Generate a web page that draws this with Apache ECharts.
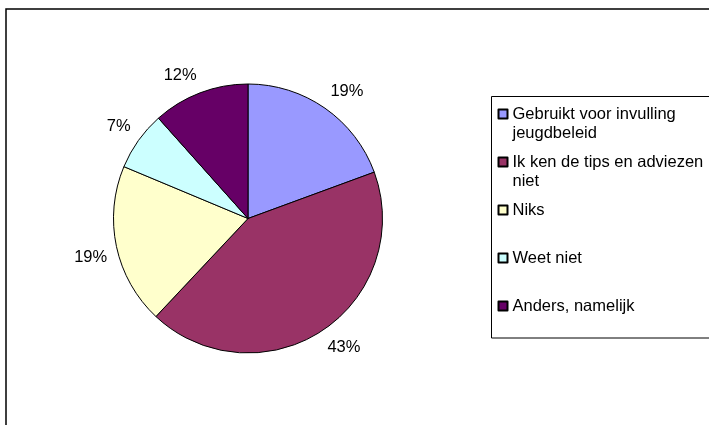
<!DOCTYPE html>
<html>
<head>
<meta charset="utf-8">
<script src="https://cdn.jsdelivr.net/npm/echarts@6/dist/echarts.min.js"></script>
<style>
html,body{margin:0;padding:0;background:#fff;}
#chart{width:709px;height:425px;}
</style>
</head>
<body>
<div id="chart"></div>
<script>
// Data
const categories = [
  'Gebruikt voor invulling jeugdbeleid',
  'Ik ken de tips en adviezen niet',
  'Niks',
  'Weet niet',
  'Anders, namelijk'
];
const legendLines = [
  'Gebruikt voor invulling\njeugdbeleid',
  'Ik ken de tips en adviezen\nniet',
  'Niks',
  'Weet niet',
  'Anders, namelijk'
];
const values = [19.4, 42.6, 19.3, 7.1, 11.6];
const colors = ['#9999FF', '#993366', '#FFFFCC', '#CCFFFF', '#660066'];

const FONT = '"Liberation Sans", Arial, sans-serif';
const PIE_CENTER = [248, 218.5];
const chart = echarts.init(document.getElementById('chart'), null, {renderer: 'canvas'});

const pieData = categories.map((c, i) => ({
  name: c,
  value: values[i],
  itemStyle: {color: colors[i]}
}));

chart.setOption({
  animation: false,
  backgroundColor: '#ffffff',
  graphic: [
    {
      type: 'rect', z: 0,
      shape: {x: 6, y: 9, width: 720, height: 430},
      style: {fill: 'none', stroke: '#000', lineWidth: 1.5}
    },
    {
      type: 'rect', z: 0,
      shape: {x: 491.5, y: 96.5, width: 240, height: 241.5},
      style: {fill: 'none', stroke: '#000', lineWidth: 1}
    }
  ],
  legend: {
    orient: 'vertical',
    left: 497.5,
    top: 114 - 29.25,
    padding: 0,
    itemWidth: 9,
    itemHeight: 9,
    itemGap: -10.5,
    icon: 'rect',
    selectedMode: false,
    data: categories,
    formatter: function (name) {
      const idx = categories.indexOf(name);
      const parts = legendLines[idx].split('\n');
      return '\n' + parts[0] + '\n' + (parts[1] || '');
    },
    textStyle: {
      fontFamily: FONT,
      fontSize: 16.5,
      lineHeight: 19.5,
      color: '#000'
    }
  },
  series: [{
    type: 'pie',
    center: PIE_CENTER,
    radius: [0, 134.5],
    startAngle: 90,
    clockwise: true,
    avoidLabelOverlap: false,
    percentPrecision: 0,
    data: pieData,
    itemStyle: {borderColor: '#000', borderWidth: 1},
    emphasis: {disabled: true},
    label: {
      show: true,
      position: 'outside',
      formatter: '{d}%',
      fontFamily: FONT,
      fontSize: 16.5,
      lineHeight: 18,
      color: '#000',
      distanceToLabelLine: 0
    },
    labelLine: {show: false, length: 9.5, length2: 0},
    labelLayout: function (params) {
      const r = params.labelRect;
      const cy = r.y + r.height / 2;
      return {verticalAlign: cy < PIE_CENTER[1] ? 'bottom' : 'top'};
    }
  }]
});
</script>
</body>
</html>
